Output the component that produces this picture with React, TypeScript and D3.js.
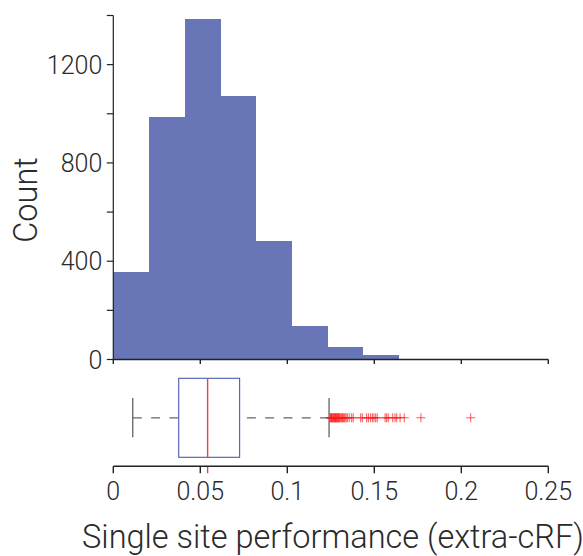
import React from "react";
import * as d3 from "d3";

// ---- data ----
const binWidth = 0.0205;
const binStarts = [0, 0.0205, 0.041, 0.0615, 0.082, 0.1025, 0.123, 0.1435, 0.164, 0.1845];
const binCounts = [357, 986, 1386, 1072, 482, 136, 51, 18, 2, 1];

const yTicks = [0, 200, 400, 600, 800, 1000, 1200, 1400];
const yTickLabels = ["0", "", "400", "", "800", "", "1200", ""];
const xTicks = [0, 0.05, 0.1, 0.15, 0.2, 0.25];
const xTickLabels = ["0", "0.05", "0.1", "0.15", "0.2", "0.25"];

// box plot summary
const whiskerLow = 0.0112;
const q1 = 0.0376;
const median = 0.0542;
const q3 = 0.0726;
const whiskerHigh = 0.124;
const outliers = [
  0.1245, 0.1249, 0.1251, 0.1254, 0.1258, 0.1261, 0.1264, 0.1267, 0.127, 0.1273,
  0.1276, 0.1278, 0.1281, 0.1284, 0.1287, 0.129, 0.1293, 0.1296, 0.1299, 0.1303,
  0.1308, 0.1313, 0.1317, 0.1322, 0.1327, 0.1332, 0.1338, 0.1345, 0.1356, 0.137,
  0.1379, 0.1422, 0.1431, 0.1456, 0.1466, 0.1479, 0.1489, 0.1498, 0.1508, 0.1517,
  0.1562, 0.1571, 0.158, 0.1606, 0.1619, 0.1629, 0.1648, 0.1672, 0.1768, 0.2054,
];

const yLabel = "Count";
const xLabel = "Single site performance (extra-cRF)";

const FONT = "Roboto, 'Liberation Sans', Arial, sans-serif";
const TEXT = "#2a2a2a";

export default function App() {
  const W = 583;
  const H = 556;
  const x = d3.scaleLinear().domain([0, 0.25]).range([113.3, 548.3]);
  const y = d3.scaleLinear().domain([0, 1400]).range([359.5, 15.5]);

  const boxTop = 378.3;
  const boxBot = 457.3;
  const boxMid = 417.8;
  const capTop = 398;
  const capBot = 437.3;
  const axis2Y = 466.3;

  return (
    <svg
      width={W}
      height={H}
      style={{ position: "absolute", left: 0, top: 0, background: "#fff" }}
      fontFamily={FONT}
      fontWeight={300}
    >
      {/* histogram bars */}
      <g fill="#6876b8" shapeRendering="crispEdges">
        {binStarts.map((s, i) => (
          <rect
            key={i}
            x={x(Math.max(0, s))}
            y={y(binCounts[i])}
            width={x(s + binWidth) - x(Math.max(0, s)) + 0.5}
            height={y(0) - y(binCounts[i])}
          />
        ))}
      </g>

      {/* histogram y axis */}
      <g stroke="#222" strokeWidth={1.2}>
        <line x1={x(0)} x2={x(0)} y1={y(1400)} y2={y(0)} />
        {yTicks.map((t) => (
          <line key={t} x1={x(0) - 6.5} x2={x(0)} y1={y(t)} y2={y(t)} />
        ))}
      </g>
      <g fill={TEXT} fontSize={25} textAnchor="end">
        {yTicks.map((t, i) =>
          yTickLabels[i] ? (
            <text key={t} x={x(0) - 11} y={y(t)} dy="0.36em">
              {yTickLabels[i]}
            </text>
          ) : null
        )}
      </g>

      {/* histogram x axis (no labels) */}
      <g stroke="#222" strokeWidth={1.4}>
        <line x1={x(0)} x2={x(0.25)} y1={y(0)} y2={y(0)} />
        {xTicks.map((t) => (
          <line key={t} x1={x(t)} x2={x(t)} y1={y(0)} y2={y(0) + 4.5} />
        ))}
      </g>

      {/* box plot */}
      <g fill="none">
        <line x1={x(whiskerLow)} x2={x(q1)} y1={boxMid} y2={boxMid} stroke="#666" strokeWidth={1.2} strokeDasharray="9,9.3" />
        <line x1={x(whiskerHigh)} x2={x(q3)} y1={boxMid} y2={boxMid} stroke="#666" strokeWidth={1.2} strokeDasharray="9,9.3" />
        <line x1={x(whiskerLow)} x2={x(whiskerLow)} y1={capTop} y2={capBot} stroke="#555" strokeWidth={1.2} />
        <line x1={x(whiskerHigh)} x2={x(whiskerHigh)} y1={capTop} y2={capBot} stroke="#555" strokeWidth={1.2} />
        <rect x={x(q1)} y={boxTop} width={x(q3) - x(q1)} height={boxBot - boxTop} stroke="#4a5bb6" strokeWidth={1.1} />
        <line x1={x(median)} x2={x(median)} y1={boxTop} y2={boxBot} stroke="#ff3a3a" strokeWidth={1.4} />
        <line x1={x(median)} x2={x(median)} y1={axis2Y} y2={axis2Y + 7} stroke="#ff3a3a" strokeWidth={1.4} />
      </g>
      <g stroke="#ff1a1a" strokeWidth={1} strokeOpacity={0.75}>
        {outliers.map((o, i) => (
          <g key={i}>
            <line x1={x(o) - 4.5} x2={x(o) + 4.5} y1={boxMid} y2={boxMid} />
            <line x1={x(o)} x2={x(o)} y1={boxMid - 4.5} y2={boxMid + 4.5} />
          </g>
        ))}
      </g>

      {/* bottom x axis */}
      <g stroke="#222" strokeWidth={1.4}>
        <line x1={x(0)} x2={x(0.25)} y1={axis2Y} y2={axis2Y} />
        {xTicks.map((t) => (
          <line key={t} x1={x(t)} x2={x(t)} y1={axis2Y} y2={axis2Y + 7} />
        ))}
      </g>
      <g fill={TEXT} fontSize={25} textAnchor="middle">
        {xTicks.map((t, i) => (
          <text key={t} x={x(t)} y={500}>
            {xTickLabels[i]}
          </text>
        ))}
      </g>

      {/* axis titles */}
      <text x={333} y={548} fontSize={32.5} fill={TEXT} textAnchor="middle">
        {xLabel}
      </text>
      <text
        transform="translate(37,200) rotate(-90)"
        fontSize={32.5}
        fill={TEXT}
        textAnchor="middle"
      >
        {yLabel}
      </text>
    </svg>
  );
}
